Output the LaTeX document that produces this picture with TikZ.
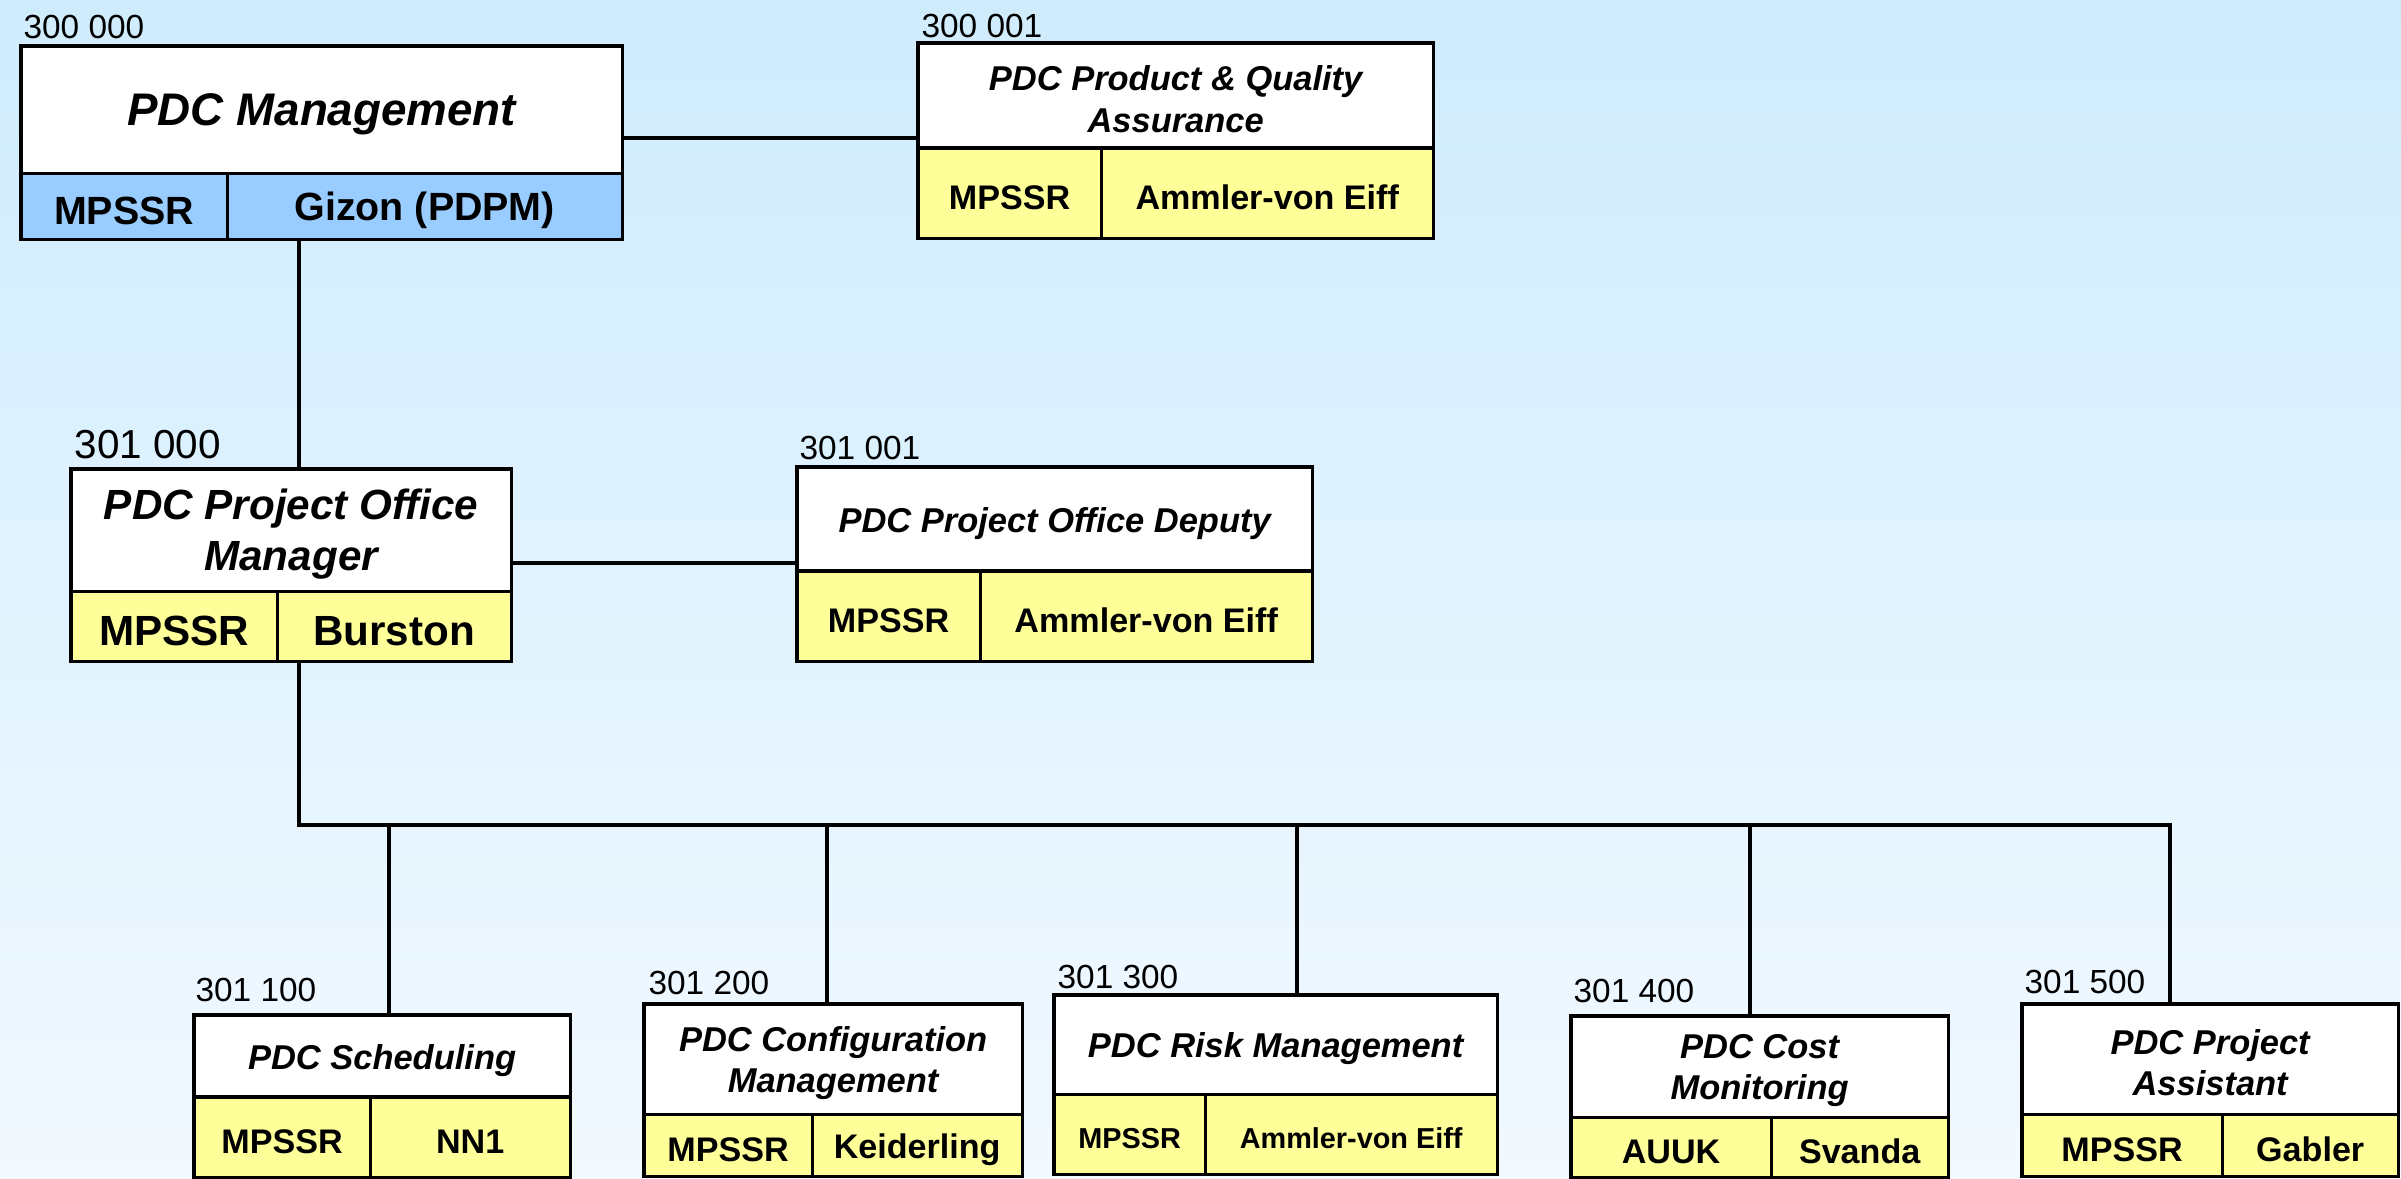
\documentclass[tikz,border=0pt]{standalone}
\usepackage{fontspec}
\setmainfont{Liberation Sans}
\definecolor{bgtop}{RGB}{207,236,253}
\definecolor{bgbottom}{RGB}{242,249,255}
\definecolor{cellblue}{RGB}{153,204,255}
\definecolor{cellyellow}{RGB}{255,255,153}

\begin{document}
\begin{tikzpicture}[x=0.01cm, y=-0.01cm, line width=0.9pt,
  unit/.style={draw, fill=white, anchor=north west, inner sep=0pt, outer sep=0pt,
    align=center, font=\fontsize{9.8}{11.7}\selectfont\bfseries\itshape},
  oneline/.style={text height=9.5pt},
  twoline/.style={text height=20.9pt},
  cell/.style={draw, fill=cellyellow, anchor=north west, inner sep=0pt, outer sep=0pt,
    text height=9.4pt, font=\fontsize{9.7}{11.6}\selectfont\bfseries},
  unitno/.style={anchor=base west, inner sep=0pt, font=\fontsize{9.5}{11}\selectfont}]

  \useasboundingbox (0,0) rectangle (2401,1178);
  \fill[top color=bgtop, bottom color=bgbottom] (0,0) rectangle (2401,1178);

  % 300 000
  \node[unit, minimum width=6.01cm, minimum height=1.27cm, text height=11.8pt,
    font=\fontsize{13}{15.6}\selectfont\bfseries\itshape] (mgmt) at (21,46) {PDC Management};
  \node[cell, fill=cellblue, minimum width=2.06cm, minimum height=0.66cm, text height=10.5pt,
    font=\fontsize{11.2}{13.4}\selectfont\bfseries] (mgmtorg) at (mgmt.south west) {MPSSR};
  \node[cell, fill=cellblue, minimum width=3.95cm, minimum height=0.66cm, text height=10.5pt,
    font=\fontsize{11.2}{13.4}\selectfont\bfseries] (mgmtname) at (mgmtorg.north east) {Gizon (PDPM)};
  \node[unitno] (mgmtno) at (22,38) {300 000};

  % 300 001
  \node[unit, twoline, minimum width=5.15cm, minimum height=1.05cm] (qa) at (918,43) {PDC Product \& Quality\\Assurance};
  \node[cell, minimum width=1.83cm, minimum height=0.90cm] (qaorg) at (qa.south west) {MPSSR};
  \node[cell, minimum width=3.32cm, minimum height=0.90cm] (qaname) at (qaorg.north east) {Ammler-von Eiff};
  \node[unitno] (qano) at (920,37) {300 001};

  % 301 000
  \node[unit, minimum width=4.40cm, minimum height=1.22cm, text height=25.5pt,
    font=\fontsize{12}{14.4}\selectfont\bfseries\itshape] (pom) at (71,469) {PDC Project Office\\Manager};
  \node[cell, minimum width=2.06cm, minimum height=0.70cm, text height=11.1pt,
    font=\fontsize{12}{14.4}\selectfont\bfseries] (pomorg) at (pom.south west) {MPSSR};
  \node[cell, minimum width=2.34cm, minimum height=0.70cm, text height=11.1pt,
    font=\fontsize{12}{14.4}\selectfont\bfseries] (pomname) at (pomorg.north east) {Burston};
  \node[unitno, font=\fontsize{11.5}{13.8}\selectfont] (pomno) at (73,458) {301 000};

  % 301 001
  \node[unit, oneline, minimum width=5.15cm, minimum height=1.04cm] (deputy) at (797,467) {PDC Project Office Deputy};
  \node[cell, minimum width=1.83cm, minimum height=0.90cm] (deputyorg) at (deputy.south west) {MPSSR};
  \node[cell, minimum width=3.32cm, minimum height=0.90cm] (deputyname) at (deputyorg.north east) {Ammler-von Eiff};
  \node[unitno] (deputyno) at (798,459) {301 001};

  % 301 100
  \node[unit, oneline, minimum width=3.76cm, minimum height=0.82cm] (sched) at (194,1015) {PDC Scheduling};
  \node[cell, minimum width=1.76cm, minimum height=0.80cm] (schedorg) at (sched.south west) {MPSSR};
  \node[cell, minimum width=2.00cm, minimum height=0.80cm] (schedname) at (schedorg.north east) {NN1};
  \node[unitno] (schedno) at (194,1001) {301 100};

  % 301 200
  \node[unit, twoline, minimum width=3.78cm, minimum height=1.10cm] (config) at (644,1004) {PDC Configuration\\Management};
  \node[cell, minimum width=1.68cm, minimum height=0.62cm] (configorg) at (config.south west) {MPSSR};
  \node[cell, minimum width=2.10cm, minimum height=0.62cm] (configname) at (configorg.north east) {Keiderling};
  \node[unitno] (configno) at (647,994) {301 200};

  % 301 300
  \node[unit, oneline, minimum width=4.43cm, minimum height=0.99cm] (risk) at (1054,995) {PDC Risk Management};
  \node[cell, minimum width=1.51cm, minimum height=0.80cm, text height=8.3pt,
    font=\fontsize{8.2}{9.8}\selectfont\bfseries] (riskorg) at (risk.south west) {MPSSR};
  \node[cell, minimum width=2.92cm, minimum height=0.80cm, text height=8.3pt,
    font=\fontsize{8.2}{9.8}\selectfont\bfseries] (riskname) at (riskorg.north east) {Ammler-von Eiff};
  \node[unitno] (riskno) at (1056,988) {301 300};

  % 301 400
  \node[unit, twoline, minimum width=3.77cm, minimum height=1.01cm] (cost) at (1571,1016) {PDC Cost\\Monitoring};
  \node[cell, minimum width=2.00cm, minimum height=0.60cm] (costorg) at (cost.south west) {AUUK};
  \node[cell, minimum width=1.77cm, minimum height=0.60cm] (costname) at (costorg.north east) {Svanda};
  \node[unitno] (costno) at (1572,1002) {301 400};

  % 301 500
  \node[unit, twoline, minimum width=3.76cm, minimum height=1.10cm] (assist) at (2022,1004) {PDC Project\\Assistant};
  \node[cell, minimum width=2.00cm, minimum height=0.62cm] (assistorg) at (assist.south west) {MPSSR};
  \node[cell, minimum width=1.76cm, minimum height=0.62cm] (assistname) at (assistorg.north east) {Gabler};
  \node[unitno] (assistno) at (2023,993) {301 500};

  % connectors
  \coordinate (link1) at (0,138);
  \coordinate (link2) at (0,563);
  \coordinate (trunk) at (299,0);
  \coordinate (busend) at (2170,825);
  \coordinate (drop1) at (389,825);
  \coordinate (drop2) at (827,825);
  \coordinate (drop3) at (1297,825);
  \coordinate (drop4) at (1750,825);

  \draw (mgmt.east |- link1) -- (qa.west |- link1);
  \draw (pom.east |- link2) -- (deputy.west |- link2);
  \draw (mgmtname.south -| trunk) -- (pom.north -| trunk);
  \draw (pomname.south -| trunk) |- (busend) -- (assist.north -| busend);
  \draw (drop1) -- (sched.north -| drop1);
  \draw (drop2) -- (config.north -| drop2);
  \draw (drop3) -- (risk.north -| drop3);
  \draw (drop4) -- (cost.north -| drop4);

\end{tikzpicture}
\end{document}
